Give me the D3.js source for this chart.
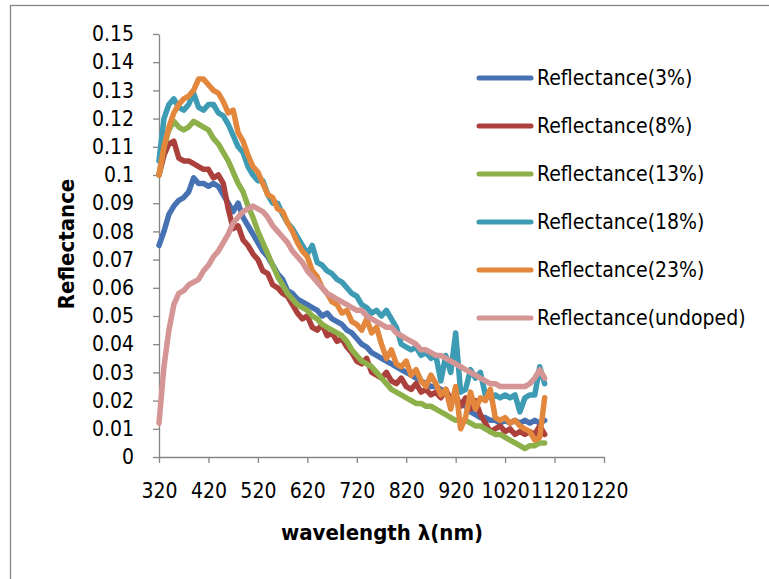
<!DOCTYPE html>
<html lang="en">
<head>
<meta charset="utf-8">
<title>Reflectance vs wavelength</title>
<script src="https://d3js.org/d3.v7.min.js"></script>
<style>
  body { margin: 0; background: #fff; }
  svg text {
    font-family: "DejaVu Sans Condensed", "DejaVu Sans", sans-serif;
    font-stretch: condensed;
    fill: #000;
  }
  .axis path, .axis line { stroke: #868686; stroke-width: 1.3px; }
  .axis text { font-size: 21px; }
  .title { font-size: 22px; font-weight: bold; }
  .legend text { font-size: 21px; }
</style>
</head>
<body>
<div id="chart"></div>
<script>

// wavelength (nm), shared by every series
var wavelengths = d3.range(320, 1101, 10);

var seriesNames = ["Reflectance(3%)", "Reflectance(8%)", "Reflectance(13%)",
                   "Reflectance(18%)", "Reflectance(23%)", "Reflectance(undoped)"];
var seriesColors = ["#4672b4", "#ab403d", "#8db04a", "#3d9bb4", "#e2873c", "#d49594"];

var r3 = [
  .075,.080,.086,.089,.091,.092,.094,.099,.097,.097,.096,.097,.096,.093,.090,.087,.090,.085,.082,.079,
  .076,.073,.071,.068,.065,.063,.059,.058,.056,.055,.054,.053,.052,.050,.051,.049,.048,.047,.045,.044,
  .042,.040,.039,.037,.036,.035,.034,.033,.032,.031,.030,.029,.028,.027,.026,.025,.025,.024,.023,.021,
  .020,.019,.018,.016,.015,.014,.014,.013,.013,.012,.013,.012,.013,.012,.013,.012,.013,.012,.013];
var r8 = [
  .100,.107,.111,.112,.106,.105,.105,.104,.103,.102,.102,.099,.100,.097,.088,.081,.082,.077,.075,.072,
  .070,.066,.065,.061,.060,.058,.057,.054,.051,.049,.050,.046,.045,.047,.043,.044,.041,.042,.039,.037,
  .034,.033,.035,.030,.029,.028,.030,.027,.026,.028,.025,.024,.026,.023,.024,.022,.023,.021,.024,.020,
  .022,.018,.021,.017,.020,.015,.012,.009,.010,.011,.009,.010,.008,.009,.008,.009,.008,.011,.008];
var r13 = [
  .100,.110,.116,.119,.117,.116,.117,.119,.118,.117,.116,.113,.111,.108,.105,.101,.097,.094,.089,.085,
  .080,.076,.072,.068,.064,.061,.058,.056,.054,.053,.052,.050,.049,.047,.046,.045,.044,.043,.041,.038,
  .036,.034,.033,.032,.030,.028,.026,.024,.023,.022,.021,.020,.019,.019,.018,.018,.017,.016,.015,.014,
  .013,.013,.013,.012,.011,.011,.010,.009,.008,.008,.007,.006,.005,.004,.003,.004,.004,.005,.005];
var r18 = [
  .105,.120,.125,.127,.124,.123,.125,.129,.124,.123,.125,.125,.122,.121,.118,.114,.110,.108,.103,.100,
  .098,.098,.093,.090,.090,.086,.083,.081,.078,.075,.072,.075,.069,.068,.066,.065,.063,.062,.060,.058,
  .057,.054,.053,.051,.052,.050,.052,.049,.046,.040,.039,.038,.039,.036,.037,.035,.036,.027,.036,.030,
  .044,.023,.024,.031,.028,.030,.022,.021,.022,.021,.022,.021,.022,.016,.021,.022,.022,.032,.026];
var r23 = [
  .100,.110,.117,.122,.125,.127,.128,.130,.134,.134,.132,.130,.129,.126,.122,.123,.115,.112,.107,.103,
  .101,.097,.093,.092,.088,.087,.083,.080,.076,.073,.071,.066,.064,.060,.058,.055,.054,.051,.052,.048,
  .047,.045,.049,.044,.046,.040,.035,.038,.033,.032,.034,.029,.031,.027,.025,.029,.026,.022,.024,.017,
  .025,.010,.014,.023,.017,.021,.020,.024,.014,.013,.014,.012,.013,.011,.010,.009,.006,.007,.021];
var rUndoped = [
  .012,.032,.045,.054,.058,.059,.061,.062,.063,.066,.068,.071,.073,.076,.079,.083,.085,.087,.088,.089,
  .088,.087,.085,.082,.080,.078,.076,.073,.071,.069,.066,.064,.062,.060,.058,.057,.056,.055,.054,.053,
  .052,.052,.050,.049,.048,.047,.046,.046,.044,.043,.042,.041,.040,.038,.038,.037,.036,.036,.035,.034,
  .033,.032,.031,.030,.029,.028,.027,.026,.026,.025,.025,.025,.025,.025,.025,.026,.028,.031,.028];

var seriesValues = [r3, r8, r13, r18, r23, rUndoped];

var xTicks = d3.range(320, 1221, 100);
var yTicks = d3.range(0, 16).map(function(i) { return i / 100; });

var width = 769, height = 579;

var svg = d3.select("#chart")
  .append("svg")
    .attr("width", width)
    .attr("height", height);

// outer chart border
svg.append("rect")
  .attr("x", 10.5).attr("y", 5.5)
  .attr("width", 800).attr("height", 600)
  .attr("fill", "none")
  .attr("stroke", "#868686")
  .attr("stroke-width", 1.3);

var x = d3.scaleLinear().domain([320, 1220]).range([159, 604]);
var y = d3.scaleLinear().domain([0, 0.15]).range([457, 34]);

svg.append("g")
  .attr("class", "axis")
  .attr("transform", "translate(0,457)")
  .call(d3.axisBottom(x).tickValues(xTicks).tickSize(6).tickPadding(20).tickSizeOuter(0)
    .tickFormat(d3.format("d")));

svg.append("g")
  .attr("class", "axis")
  .attr("transform", "translate(159,0)")
  .call(d3.axisLeft(y).tickValues(yTicks).tickSize(6).tickPadding(19).tickSizeOuter(0)
    .tickFormat(function(d) { return d === 0 ? "0" : String(+d.toFixed(2)); }));

// axis titles
svg.append("text")
  .attr("class", "title")
  .attr("text-anchor", "middle")
  .attr("transform", "translate(74,244) rotate(-90)")
  .text("Reflectance");

svg.append("text")
  .attr("class", "title")
  .attr("text-anchor", "middle")
  .attr("x", 382)
  .attr("y", 540)
  .text("wavelength λ(nm)");

// lines
var line = d3.line()
  .x(function(d, i) { return x(wavelengths[i]); })
  .y(function(d) { return y(d); });

svg.append("g")
  .selectAll("path")
  .data(seriesValues)
  .enter()
  .append("path")
    .attr("d", line)
    .attr("fill", "none")
    .attr("stroke", function(d, i) { return seriesColors[i]; })
    .attr("stroke-width", 5.5)
    .attr("stroke-linejoin", "round")
    .attr("stroke-linecap", "round");

// legend
var legend = svg.append("g")
  .attr("class", "legend")
  .selectAll("g")
  .data(seriesNames)
  .enter()
  .append("g")
    .attr("transform", function(d, i) { return "translate(0," + (78 + i * 48) + ")"; });

legend.append("line")
  .attr("x1", 479).attr("x2", 531)
  .attr("stroke", function(d, i) { return seriesColors[i]; })
  .attr("stroke-width", 5)
  .attr("stroke-linecap", "round");

legend.append("text")
  .attr("x", 537)
  .attr("dy", "0.35em")
  .text(function(d) { return d; });

</script>
</body>
</html>
